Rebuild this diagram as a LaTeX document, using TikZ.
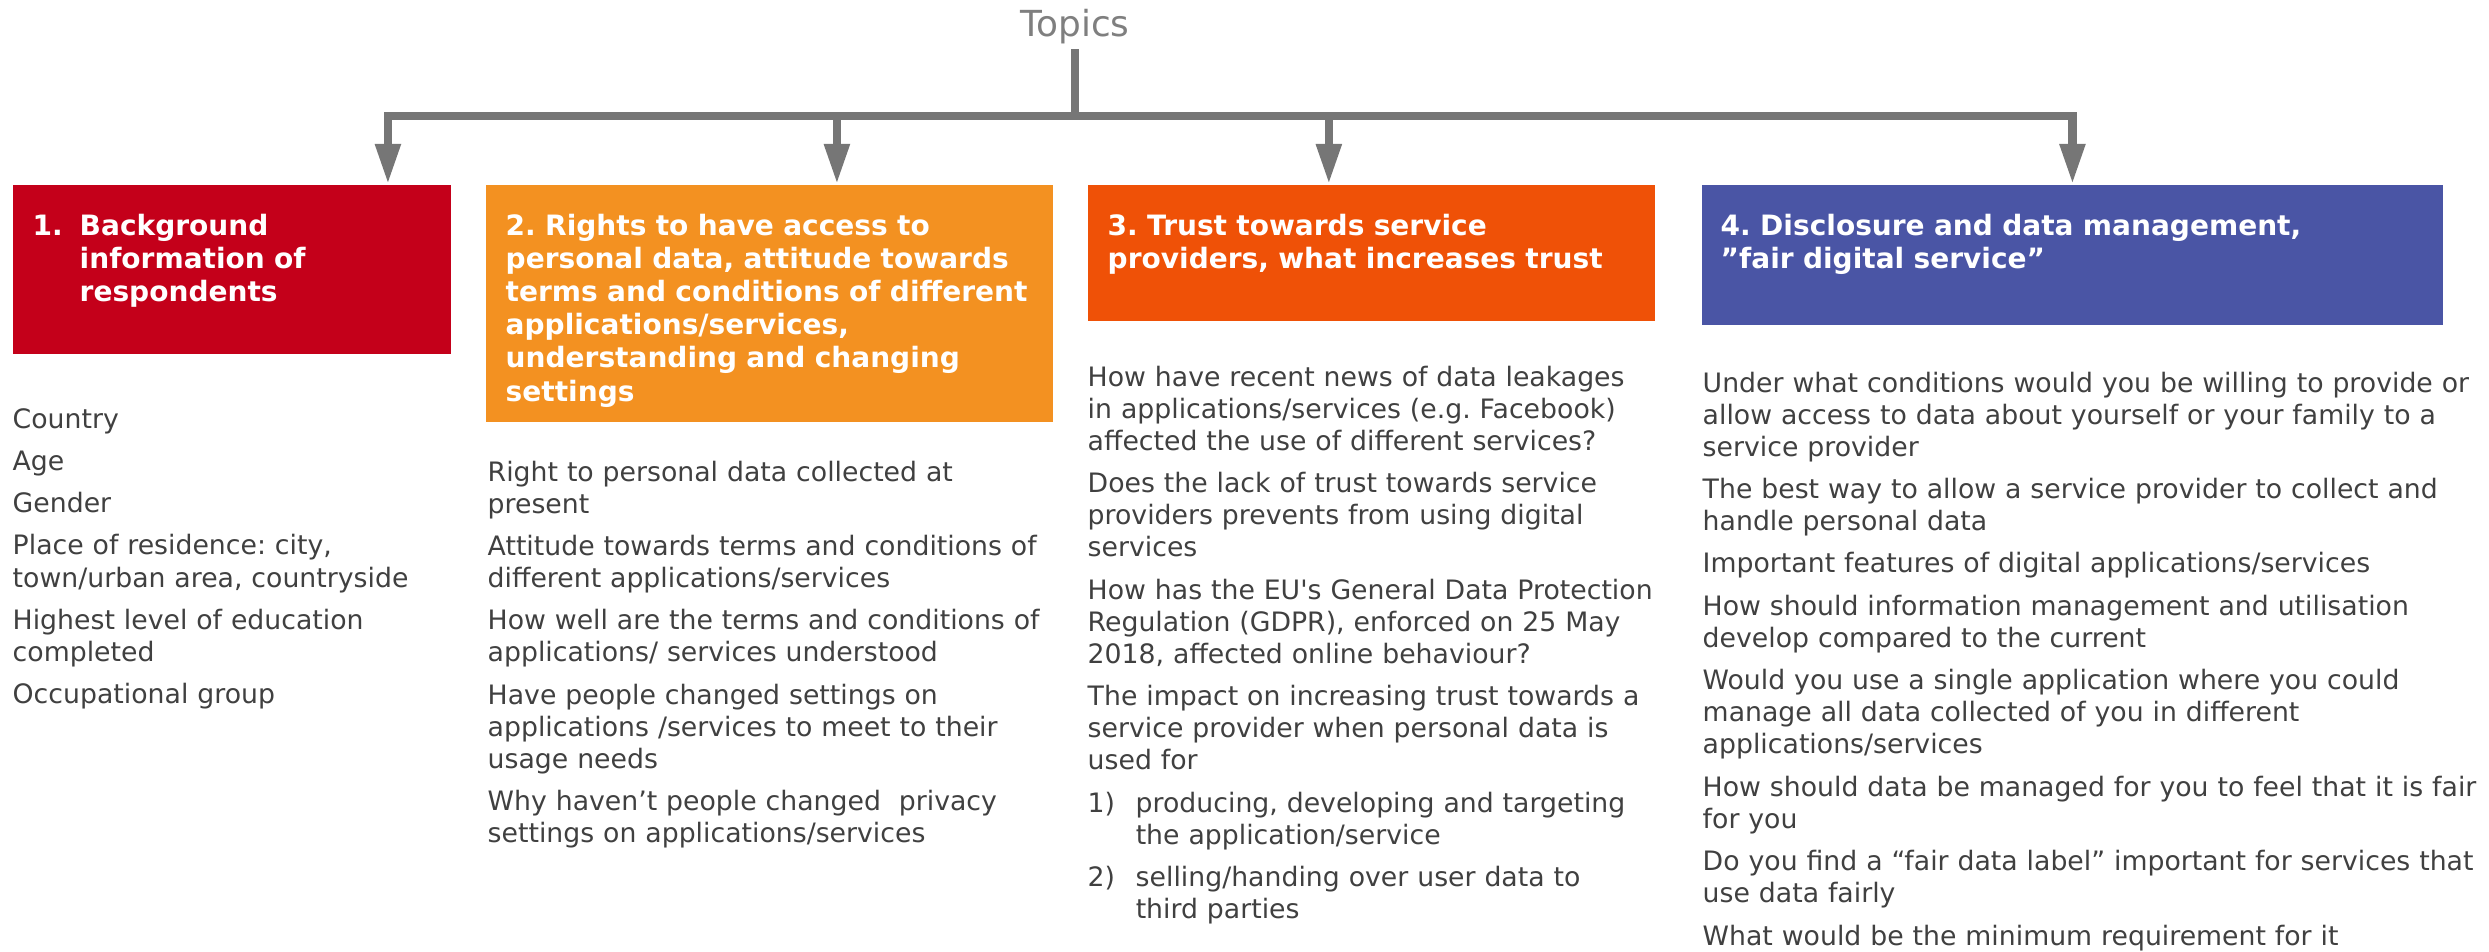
\documentclass[tikz,border=0pt]{standalone}
\usepackage{fontspec}
\setmainfont{DejaVu Sans}
\usetikzlibrary{arrows.meta}

\definecolor{topicred}{RGB}{196,0,26}
\definecolor{topicorange}{RGB}{243,145,33}
\definecolor{topicrust}{RGB}{239,81,7}
\definecolor{topicblue}{RGB}{74,85,165}
\definecolor{linegray}{RGB}{118,118,118}
\definecolor{headgray}{RGB}{127,127,127}
\definecolor{textgray}{RGB}{64,64,64}

% straight apostrophe, not turned into a curly one
\newcommand{\aposq}{\XeTeXglyph\XeTeXcharglyph"27\relax}

\tikzset{
  box/.style={anchor=north west,inner sep=0pt,draw=none},
  title/.style={anchor=base west,inner sep=0pt,align=left,text=white,
    font=\fontsize{7.97pt}{9.45pt}\selectfont\bfseries},
  qtext/.style={anchor=base west,inner sep=0pt,align=left,text=textgray,
    font=\fontsize{7.6pt}{9.13pt}\selectfont},
  conn/.style={draw=linegray,line width=2.3pt,-{Triangle[length=0.4cm,width=0.24cm]}}
}

\begin{document}
\frenchspacing
\begin{tikzpicture}[x=0.01cm,y=-0.01cm]
\useasboundingbox (0,0) rectangle (2489,951);

\node[anchor=base,inner sep=1.5pt,text=headgray,font=\fontsize{10.2pt}{12pt}\selectfont] (topics) at (1075,36) {Topics};
\coordinate (hub) at (1075,116);

% the four topic boxes
\node[box,fill=topicred,minimum width=4.38cm,minimum height=1.69cm] (b1) at (12,184) {};
\node[box,fill=topicorange,minimum width=5.67cm,minimum height=2.37cm] (b2) at (485,184) {};
\node[box,fill=topicrust,minimum width=5.67cm,minimum height=1.36cm] (b3) at (1087,184) {};
\node[box,fill=topicblue,minimum width=7.41cm,minimum height=1.40cm] (b4) at (1701,184) {};

\node[title,text width=4cm] (t1) at (32,235) {\makebox[0.47cm][l]{1.}Background\\\hspace*{0.47cm}information of\\\hspace*{0.47cm}respondents};
\node[title,text width=5.4cm] (t2) at (505,235) {2. Rights to have access to\\personal data, attitude towards\\terms and conditions of different\\applications/services,\\understanding and changing\\settings};
\node[title,text width=5.4cm] (t3) at (1107,235) {3. Trust towards service\\providers, what increases trust};
\node[title,text width=7cm] (t4) at (1720,235) {4. Disclosure and data management,\\”fair digital service”};

% connectors
\draw[draw=linegray,line width=2.3pt] (topics.south) -- (hub);
\draw[conn] (hub) -| ([xshift=1.56cm]b1.north);
\draw[conn] (hub) -| ([xshift=0.675cm]b2.north);
\draw[conn] (hub) -| ([xshift=-0.425cm]b3.north);
\draw[conn] (hub) -| (b4.north);

% questions
\node[qtext,text width=4.4cm] (q1) at (12,428) {Country\\[2.9pt]Age\\[2.9pt]Gender\\[2.9pt]Place of residence: city,\\town/urban area, countryside\\[2.9pt]Highest level of education\\completed\\[2.9pt]Occupational group};
\node[qtext,text width=5.7cm] (q2) at (487,481) {Right to personal data collected at\\present\\[2.9pt]Attitude towards terms and conditions of\\different applications/services\\[2.9pt]How well are the terms and conditions of\\applications/ services understood\\[2.9pt]Have people changed settings on\\applications /services to meet to their\\usage needs\\[2.9pt]Why haven’t people changed\ \ privacy\\settings on applications/services};
\node[qtext,text width=5.8cm] (q3) at (1087,386) {How have recent news of data leakages\\in applications/services (e.g. Facebook)\\affected the use of different services?\\[2.9pt]Does the lack of trust towards service\\providers prevents from using digital\\services\\[2.9pt]How has the EU\aposq s General Data Protection\\Regulation (GDPR), enforced on 25 May\\2018, affected online behaviour?\\[2.9pt]The impact on increasing trust towards a\\service provider when personal data is\\used for\\[2.9pt]\makebox[0.48cm][l]{1)}producing, developing and targeting\\\hspace*{0.48cm}the application/service\\[2.9pt]\makebox[0.48cm][l]{2)}selling/handing over user data to\\\hspace*{0.48cm}third parties};
\node[qtext,text width=7.8cm] (q4) at (1702,392) {Under what conditions would you be willing to provide or\\allow access to data about yourself or your family to a\\service provider\\[2.9pt]The best way to allow a service provider to collect and\\handle personal data\\[2.9pt]Important features of digital applications/services\\[2.9pt]How should information management and utilisation\\develop compared to the current\\[2.9pt]Would you use a single application where you could\\manage all data collected of you in different\\applications/services\\[2.9pt]How should data be managed for you to feel that it is fair\\for you\\[2.9pt]Do you find a “fair data label” important for services that\\use data fairly\\[2.9pt]What would be the minimum requirement for it};

\end{tikzpicture}
\end{document}
